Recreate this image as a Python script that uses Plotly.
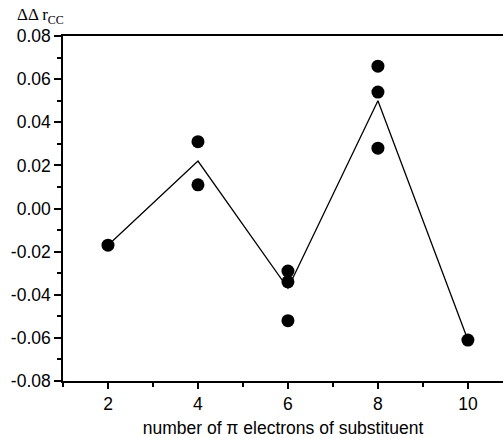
import plotly.graph_objects as go

# scatter points (number of pi electrons, ΔΔ r_CC)
point_x = [2, 4, 4, 6, 6, 6, 8, 8, 8, 10]
point_y = [-0.017, 0.031, 0.011, -0.029, -0.034, -0.052, 0.066, 0.054, 0.028, -0.061]

# connecting line (average values)
line_x = [2, 4, 6, 8, 10]
line_y = [-0.017, 0.022, -0.037, 0.050, -0.061]

x_ticks = [2, 4, 6, 8, 10]
y_ticks = [-0.08, -0.06, -0.04, -0.02, 0.00, 0.02, 0.04, 0.06, 0.08]

fig = go.Figure()
fig.add_trace(go.Scatter(x=line_x, y=line_y, mode="lines",
                         line=dict(color="black", width=1.3), showlegend=False))
fig.add_trace(go.Scatter(x=point_x, y=point_y, mode="markers",
                         marker=dict(color="black", size=13), showlegend=False))

font_sans = "Liberation Sans, Arial, sans-serif"
fig.update_layout(
    width=503, height=438,
    margin=dict(l=63, r=0, t=36, b=57, autoexpand=False),
    paper_bgcolor="white", plot_bgcolor="white",
    font=dict(family=font_sans, size=17.5, color="black"),
    xaxis=dict(range=[1.0, 10.78], tickvals=x_ticks,
               ticktext=[str(v) for v in x_ticks],
               showgrid=False, zeroline=False, automargin=False,
               showline=True, linecolor="black", linewidth=1.5, mirror=True,
               ticks="outside", ticklen=6, tickwidth=1.5, tickcolor="black",
               minor=dict(dtick=1, ticks="outside", ticklen=4, tickwidth=1.5, tickcolor="black"),
               title=dict(text="number of π electrons of substituent",
                          font=dict(size=17.5), standoff=10)),
    yaxis=dict(range=[-0.08, 0.08], tickvals=y_ticks,
               ticktext=[f"{v:.2f}" for v in y_ticks],
               showgrid=False, zeroline=False, automargin=False,
               showline=True, linecolor="black", linewidth=1.5,
               ticks="outside", ticklen=7, tickwidth=1.5, tickcolor="black",
               minor=dict(dtick=0.01, ticks="outside", ticklen=4, tickwidth=1.5, tickcolor="black")),
    annotations=[dict(text="ΔΔ r<sub>CC</sub>", xref="paper", yref="paper",
                      x=-0.11, y=1.0, xanchor="left", yanchor="middle", yshift=20,
                      showarrow=False,
                      font=dict(family="Liberation Serif, Times New Roman, serif", size=17))],
)

fig.write_html("out.html", config={"displayModeBar": False},
               post_script="document.body.style.margin='0';document.body.style.overflow='hidden';")
